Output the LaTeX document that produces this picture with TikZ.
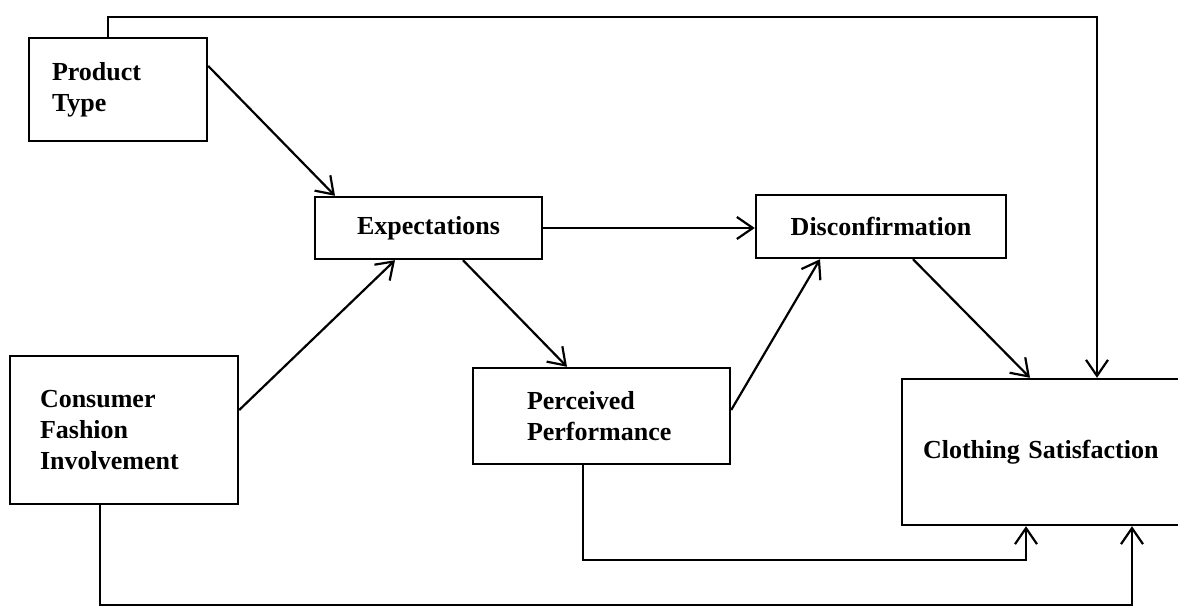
\documentclass[tikz,border=0pt]{standalone}
\usepackage{fontspec}
\setmainfont{Liberation Serif}
\usetikzlibrary{arrows.meta}

\tikzset{
  box/.style={draw, line width=1.2pt, inner ysep=0pt,
    font=\bfseries\fontsize{13}{15.5}\selectfont},
  lbox/.style={box, align=left},
  link/.style={line width=1.1pt, -{Straight Barb[length=8pt,width=11pt]}},
}

\begin{document}
\begin{tikzpicture}[x=0.5pt, y=-0.5pt]
\clip (0,0) rectangle (1178,614);

 % boxes
 \node[lbox, text width=66pt, inner xsep=11.5pt, minimum height=51.5pt] (prod) at (118,89.5) {Product\\Type};
 \node[box, minimum width=113.5pt, minimum height=31pt] (expt) at (428.5,228) {Expectations};
 \node[box, minimum width=125pt, minimum height=31.5pt] (disc) at (881,226.5) {Disconfirmation};
 \node[lbox, text width=84pt, inner xsep=15pt, minimum height=74pt] (cons) at (124,430) {Consumer\\Fashion\\Involvement};
 \node[lbox, text width=74.5pt, inner xsep=27pt, minimum height=48pt] (perc) at (601.5,416) {Perceived\\Performance};
 \node[lbox, text width=119pt, inner xsep=10.5pt, minimum height=73pt] (clot) at (1042,452) {Clothing Satisfaction};

 % turning points of the long connectors
 \coordinate (topL) at (108,17);
 \coordinate (topR) at (1097,17);
 \coordinate (pturn) at (1026,560);
 \coordinate (cturn) at (1132,605);

 % connectors
 \draw[link] ([yshift=11.75pt]prod.east) -- ([xshift=-46.75pt]expt.north);
 \draw[link] ([yshift=10pt]cons.east) -- ([xshift=-16.75pt]expt.south);
 \draw[link] (expt.east) -- (expt.east -| disc.west);
 \draw[link] ([xshift=17.25pt]expt.south) -- ([xshift=-17.25pt]perc.north);
 \draw[link] ([yshift=3pt]perc.east) -- ([xshift=-30.5pt]disc.south);
 \draw[link] ([xshift=16pt]disc.south) -- ([xshift=-6pt]clot.north);

 \draw[link] (prod.north -| topL) -- (topL) -- (topR) -- (topR |- clot.north);
 \draw[link] ([xshift=-9.25pt]perc.south) |- (pturn) -- (pturn |- clot.south);
 \draw[link] ([xshift=-12pt]cons.south) |- (cturn) -- (cturn |- clot.south);
\end{tikzpicture}
\end{document}
